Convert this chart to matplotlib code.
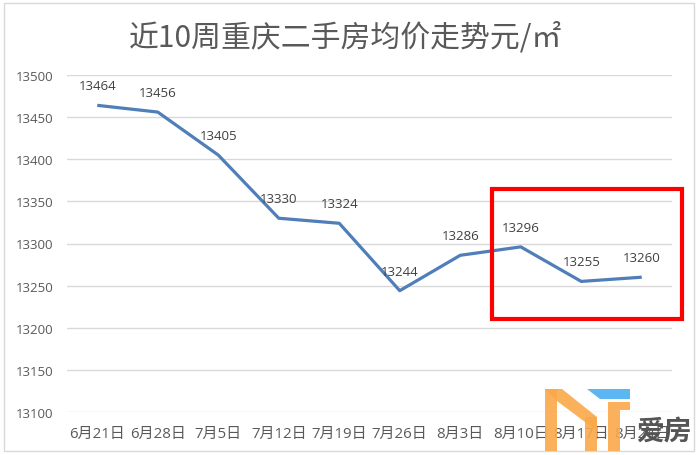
import matplotlib
matplotlib.use('Agg')
import matplotlib.pyplot as plt
from matplotlib.patches import Rectangle, Polygon

plt.rcParams['font.family'] = ['Open Sans', 'Noto Sans CJK SC', 'DejaVu Sans']

weeks = ['6月21日', '6月28日', '7月5日', '7月12日', '7月19日', '7月26日',
         '8月3日', '8月10日', '8月17日', '8月24日']
price = [13464, 13456, 13405, 13330, 13324, 13244, 13286, 13296, 13255, 13260]
yticks = [13100, 13150, 13200, 13250, 13300, 13350, 13400, 13450, 13500]

W, H = 698, 456
fig = plt.figure(figsize=(W / 100, H / 100), dpi=100)
ax = fig.add_axes([67 / W, 1 - 413 / H, 605 / W, 337 / H])

x = list(range(len(price)))
ax.plot(x, price, color='#4F7EB9', lw=2.3, solid_capstyle='butt')
for i, v in zip(x, price):
    ax.annotate(str(v), (i, v), xytext=(0, 14), textcoords='offset points',
                ha='center', va='center', fontsize=9.5, color='#404040')

ax.set_xlim(-0.5, len(price) - 0.5)
ax.set_ylim(13100, 13500)
ax.set_yticks(yticks)
ax.set_xticks(x)
ax.set_xticklabels(weeks)
ax.grid(axis='y', color='#D9D9D9', lw=1)
ax.set_axisbelow(True)
for s in ax.spines.values():
    s.set_visible(False)
ax.tick_params(axis='both', length=0, colors='#595959', labelsize=9.5)
ax.tick_params(axis='x', pad=10, labelsize=10.8)
ax.tick_params(axis='y', pad=10)

fig.text(0.495, 1 - 38 / H, '近10周重庆二手房均价走势元/㎡', ha='center', va='center',
         fontsize=21.5, color='#595959', family=['Noto Sans CJK SC', 'DejaVu Sans'])

# outer chart frame
fig.add_artist(Rectangle((4 / W, 4 / H), 690 / W, 448 / H, transform=fig.transFigure,
                         fill=False, ec='#D9D9D9', lw=1))
# red highlight box
fig.add_artist(Rectangle((492 / W, 1 - 320 / H), 190 / W, 130 / H, transform=fig.transFigure,
                         fill=False, ec='#FF0000', lw=3))

# watermark logo
orange = '#FBA84A'


def px(pts):
    return [(a / W, 1 - b / H) for a, b in pts]


for poly in [
    [(545, 390), (557, 390), (557, 452), (545, 452)],
    [(545, 390), (562, 390), (597, 418), (597, 432), (557, 402)],
    [(585, 418), (597, 418), (597, 452), (585, 452)],
    [(608, 403), (630, 403), (630, 411), (620, 411), (620, 452), (608, 452)],
]:
    fig.add_artist(Polygon(px(poly), closed=True, transform=fig.transFigure,
                           fc=orange, ec='none', alpha=0.9, zorder=5))
fig.add_artist(Polygon(px([(587, 390), (630, 390), (630, 400), (600, 400)]), closed=True,
                       transform=fig.transFigure, fc='#5BB6F2', ec='none', zorder=5))
fig.text(664 / W, 1 - 432 / H, '爱房', ha='center', va='center', fontsize=20,
         fontweight='bold', style='italic', color='#555555', zorder=6,
         family=['Noto Sans CJK SC', 'DejaVu Sans'])

fig.savefig('out.png', dpi=100, facecolor='white')
